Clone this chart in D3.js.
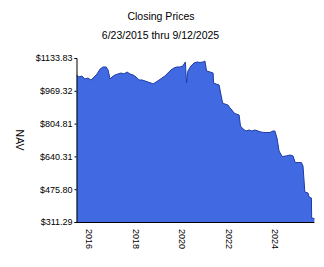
<!DOCTYPE html>
<html><head><meta charset="utf-8">
<script src="https://cdn.jsdelivr.net/npm/d3@7"></script>
<style>body{margin:0;background:#fff}svg{display:block}text{font-family:"Liberation Sans",Arial,sans-serif;fill:#000}</style>
</head><body>
<script>
const title = "Closing Prices";
const subtitle = "6/23/2015 thru 9/12/2025";
const yLabel = "NAV";
const yTicks = [311.29, 475.80, 640.31, 804.81, 969.32, 1133.83];
const xTickYears = [2016, 2018, 2020, 2022, 2024];
const dates = ["2015-06-23","2015-07-27","2015-09-13","2015-10-30","2015-12-17","2016-02-03","2016-03-22","2016-05-08","2016-06-25","2016-08-11","2016-09-28","2016-10-27","2016-11-29","2016-12-28","2017-02-14","2017-04-02","2017-05-19","2017-07-05","2017-08-22","2017-10-08","2017-11-25","2018-01-12","2018-02-28","2018-04-16","2018-06-02","2018-07-16","2018-09-02","2018-10-05","2018-11-21","2019-01-08","2019-02-21","2019-04-09","2019-05-26","2019-07-12","2019-08-29","2019-10-15","2019-11-29","2020-01-15","2020-02-24","2020-03-13","2020-04-04","2020-05-22","2020-07-08","2020-08-25","2020-10-11","2020-11-28","2020-12-27","2021-01-22","2021-03-18","2021-05-05","2021-05-12","2021-06-21","2021-08-07","2021-08-22","2021-10-01","2021-11-06","2021-12-24","2022-01-26","2022-02-24","2022-03-29","2022-05-01","2022-06-17","2022-07-09","2022-08-18","2022-10-05","2022-11-18","2023-01-04","2023-02-21","2023-04-09","2023-05-26","2023-07-12","2023-08-29","2023-10-15","2023-12-01","2023-12-31","2024-02-02","2024-03-06","2024-04-23","2024-06-24","2024-08-25","2024-10-12","2024-11-14","2024-12-31","2025-02-20","2025-03-17","2025-04-15","2025-06-03","2025-06-21","2025-07-27","2025-07-31","2025-09-12"];
const nav = [1048.6,1038.5,1043.6,1028.5,1033.5,1023.0,1038.5,1053.6,1078.7,1088.7,1088.7,1073.6,1028.5,1038.5,1048.6,1053.6,1058.6,1053.6,1063.6,1053.6,1048.6,1038.5,1023.5,1023.5,1018.5,1013.5,1008.4,1003.4,1013.5,1023.5,1033.5,1043.6,1058.6,1073.6,1083.7,1088.7,1088.7,1093.7,1113.8,1008.4,1068.6,1093.7,1108.8,1113.8,1111.3,1113.8,1118.8,1068.6,1063.6,1058.6,1008.4,1003.4,998.4,973.3,908.1,903.1,898.1,883.1,873.0,858.0,853.0,848.0,792.8,777.8,767.7,772.7,767.7,772.7,767.7,762.7,760.2,760.2,760.2,767.7,767.7,732.6,667.4,639.8,642.3,647.3,642.3,609.7,609.7,609.7,592.2,461.8,456.7,436.7,431.7,331.3,328.8];

const W = 324, H = 267;
const parse = d3.timeParse("%Y-%m-%d");
const data = dates.map((d, i) => ({date: parse(d), v: nav[i]}));

const svg = d3.select("body").append("svg").attr("width", W).attr("height", H);
const x = d3.scaleTime().domain([parse("2015-06-23"), parse("2025-09-12")]).range([76.7, 314.4]);
const y = d3.scaleLinear().domain([yTicks[0], yTicks[yTicks.length-1]]).range([222, 58]);

svg.append("text").attr("x", 161).attr("y", 19.5).attr("text-anchor", "middle").style("font-size", "10.5px").text(title);
svg.append("text").attr("x", 160.5).attr("y", 39.3).attr("text-anchor", "middle").style("font-size", "10.5px").text(subtitle);

const area = d3.area().x(d => x(d.date)).y0(y(yTicks[0])).y1(d => y(d.v));
const line = d3.line().x(d => x(d.date)).y(d => y(d.v));
svg.append("path").datum(data).attr("d", area).attr("fill", "#4169e1");
svg.append("path").datum(data).attr("d", line).attr("fill", "none").attr("stroke", "#1e3ca6").attr("stroke-width", 1);

const yAxis = d3.axisLeft(y).tickValues(yTicks).tickSize(2).tickPadding(2).tickFormat(d => "$" + d.toFixed(2));
const gy = svg.append("g").attr("transform", "translate(76.5,0)").call(yAxis);
gy.selectAll("text").style("font-size", "9px").attr("fill", "#000");
gy.select(".domain").attr("stroke", "#000");

const xAxis = d3.axisBottom(x).tickValues(xTickYears.map(yr => new Date(yr, 0, 1))).tickSize(0).tickFormat(d3.timeFormat("%Y"));
const gx = svg.append("g").attr("transform", "translate(0,222)").call(xAxis);
gx.select(".domain").attr("stroke", "#000").attr("d", "M76.5,0.5H314.4");
gx.selectAll("text").style("font-size", "9px").attr("text-anchor", "start")
  .attr("transform", "rotate(90)").attr("x", 7).attr("y", 0).attr("dy", "0.35em");

svg.append("text").attr("transform", "translate(20,140) rotate(90)").attr("text-anchor", "middle").attr("dy", "0.35em").style("font-size", "10.5px").text(yLabel);
</script>
</body></html>
